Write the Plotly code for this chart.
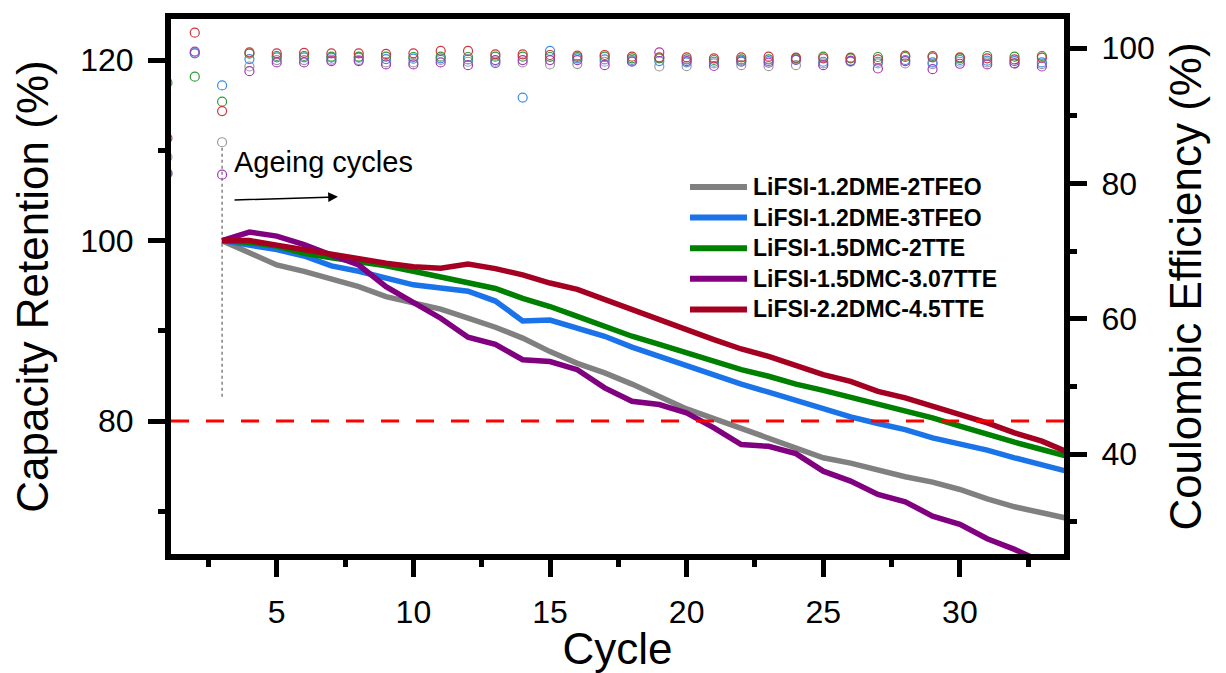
import plotly.graph_objects as go

# ---------------- data ----------------
cycles_ce = list(range(1, 35))
cycles_cap = list(range(3, 35))

series_names = [
    "LiFSI-1.2DME-2TFEO",
    "LiFSI-1.2DME-3TFEO",
    "LiFSI-1.5DMC-2TTE",
    "LiFSI-1.5DMC-3.07TTE",
    "LiFSI-2.2DMC-4.5TTE",
]

cap_gray = [100, 98.6, 97.3, 96.6, 95.7, 94.9, 93.8, 93.1, 92.4, 91.4, 90.4, 89.2, 87.7, 86.4,
            85.34, 84.1, 82.64, 81.35, 80.28, 79.17, 78.14, 77.03, 75.93, 75.34, 74.56, 73.83,
            73.23, 72.42, 71.39, 70.5, 69.84, 69.17]
cap_blue = [100, 99.55, 99.0, 98.3, 97.2, 96.6, 95.9, 95.1, 94.75, 94.4, 93.3, 91.1, 91.2, 90.3,
            89.4, 88.2, 87.2, 86.1, 85.04, 84.1, 83.2, 82.3, 81.35, 80.47, 79.73, 79.06, 78.14,
            77.5, 76.78, 75.93, 75.08, 74.38]
cap_green = [100, 99.8, 99.4, 98.6, 98.1, 97.7, 97.2, 96.6, 96.0, 95.3, 94.7, 93.6, 92.7, 91.6,
             90.5, 89.4, 88.5, 87.55, 86.55, 85.7, 84.97, 84.1, 83.4, 82.64, 81.9, 81.17, 80.35,
             79.43, 78.5, 77.66, 76.85, 76.04]
cap_purple = [100, 100.95, 100.5, 99.55, 98.4, 97.3, 94.9, 93.1, 91.4, 89.3, 88.5, 86.8, 86.6,
              85.7, 83.68, 82.2, 81.83, 80.9, 79.25, 77.4, 77.2, 76.4, 74.45, 73.35, 71.87, 71.06,
              69.47, 68.55, 66.96, 65.78, 64.49, 63.0]
cap_red = [100, 100.0, 99.5, 99.0, 98.4, 98.0, 97.5, 97.1, 96.95, 97.4, 96.9, 96.2, 95.3, 94.6,
           93.45, 92.35, 91.24, 90.13, 89.03, 87.99, 87.18, 86.15, 85.15, 84.4, 83.3, 82.57, 81.65,
           80.8, 79.8, 78.7, 77.77, 76.5]

ce_gray = [83.9, 99.3, 86.1, 97.3, 98.25, 98.25, 98.3, 98.26, 97.9, 97.9, 98.26, 98.0, 98.0, 97.9,
           97.6, 97.65, 98.0, 98.1, 97.3, 97.35, 97.75, 97.5, 97.35, 97.5, 97.75, 98.0, 97.75,
           97.75, 97.65, 98.0, 97.9, 97.75, 97.65, 97.75]
ce_blue = [81.5, 99.25, 94.5, 98.4, 98.65, 98.65, 98.6, 98.6, 98.4, 98.45, 98.5, 98.35, 97.8, 92.7,
           99.6, 98.5, 98.35, 98.26, 98.1, 97.9, 98.0, 98.16, 98.1, 98.26, 98.0, 98.16, 98.0, 98.26,
           97.9, 98.26, 98.16, 98.1, 97.9, 98.1]
ce_green = [94.9, 95.8, 92.1, 99.2, 98.85, 98.85, 98.75, 98.75, 98.75, 98.7, 98.75, 98.7, 98.75,
            98.75, 98.7, 98.7, 98.75, 98.5, 98.5, 98.35, 98.26, 98.35, 98.35, 98.5, 98.75, 98.5,
            98.7, 98.7, 98.85, 98.5, 98.85, 98.75, 98.85, 98.35]
ce_purple = [81.5, 99.5, 81.3, 96.6, 97.9, 97.9, 98.1, 98.1, 97.6, 97.6, 97.9, 97.5, 98.25, 98.25,
             98.25, 98.25, 97.5, 98.0, 99.4, 98.1, 97.37, 98.0, 97.85, 98.3, 97.5, 98.1, 97.0, 98.1,
             96.9, 97.7, 97.6, 97.75, 97.3, 97.0]
ce_red = [86.7, 102.3, 90.7, 99.4, 99.25, 99.3, 99.25, 99.25, 99.15, 99.25, 99.6, 99.6, 99.1, 99.1,
          99.0, 98.9, 99.0, 98.75, 98.65, 98.65, 98.5, 98.65, 98.75, 98.6, 98.5, 98.6, 98.35, 98.9,
          98.65, 98.65, 98.5, 98.35, 98.6, 98.3]

threshold = 80
ageing_start = 3
ageing_line_span = [82.7, 110.4]
ageing_label = "Ageing cycles"
arrow_from = [3.4, 104.5]
arrow_to = [7.24, 104.85]

x_ticks = [5, 10, 15, 20, 25, 30]
y_ticks = [80, 100, 120]
y2_ticks = [40, 60, 80, 100]

# ---------------- styles ----------------
line_colors = ["#808080", "#1a73e8", "#008000", "#800080", "#a50021"]
marker_colors = ["#9a9a9a", "#3b8de8", "#2f9a35", "#a53ab8", "#d0343e"]
caps = [cap_gray, cap_blue, cap_green, cap_purple, cap_red]
ces = [ce_gray, ce_blue, ce_green, ce_purple, ce_red]

FONT = "Liberation Sans, Arial, sans-serif"

# the page body adds an 8px offset; compensate so the figure fills the 1226x673 view
PAGE_OFFSET = 8

# legend geometry (paper fractions)
LEG_X0, LEG_X1, LEG_TX = 0.5812, 0.645, 0.6495
LEG_Y0, LEG_DY = 0.686, 0.0572

fig = go.Figure()

for name, ce, mc in zip(series_names, ces, marker_colors):
    fig.add_trace(go.Scatter(
        x=cycles_ce, y=ce, yaxis="y2", mode="markers", showlegend=False, name=name + " CE",
        marker=dict(symbol="circle-open", size=9, color=mc, line=dict(width=1.2, color=mc)),
    ))

for name, cap, lc in zip(series_names, caps, line_colors):
    fig.add_trace(go.Scatter(
        x=cycles_cap, y=cap, mode="lines", name=name, showlegend=False,
        line=dict(color=lc, width=5.5),
    ))

# legend drawn as shapes + text
for i, (name, lc) in enumerate(zip(series_names, line_colors)):
    yy = LEG_Y0 - i * LEG_DY
    fig.add_shape(type="line", xref="paper", yref="paper", x0=LEG_X0, x1=LEG_X1, y0=yy, y1=yy,
                  line=dict(color=lc, width=6))
    fig.add_annotation(x=LEG_TX, y=yy, xref="paper", yref="paper", text="<b>%s</b>" % name,
                       showarrow=False, xanchor="left", yanchor="middle",
                       font=dict(family=FONT, size=23, color="black"))

# 80 % threshold
fig.add_shape(type="line", xref="paper", x0=0, x1=1, yref="y", y0=threshold, y1=threshold,
              line=dict(color="#ff0000", width=3, dash="18px,17px"), layer="above")
# ageing start marker
fig.add_shape(type="line", xref="x", yref="y", x0=ageing_start, x1=ageing_start,
              y0=ageing_line_span[0], y1=ageing_line_span[1],
              line=dict(color="#808080", width=1.5, dash="dot"), layer="below")

fig.add_annotation(x=3.36, y=108.7, xref="x", yref="y", text=ageing_label, showarrow=False,
                   xanchor="left", yanchor="middle", font=dict(family=FONT, size=29, color="black"))
fig.add_annotation(x=arrow_to[0], y=arrow_to[1], ax=arrow_from[0], ay=arrow_from[1],
                   xref="x", yref="y", axref="x", ayref="y", text="", showarrow=True,
                   arrowhead=2, arrowsize=1.3, arrowwidth=1.5, arrowcolor="black")

axis_common = dict(
    showline=True, linewidth=6, linecolor="black", ticks="outside", ticklen=17, tickwidth=5,
    tickcolor="black", showgrid=False, zeroline=False, automargin=False,
    ticklabelstandoff=8,
    tickfont=dict(family=FONT, size=32, color="black"),
    title_font=dict(family=FONT, size=44, color="black"),
)
minor_common = dict(ticks="outside", ticklen=7, tickwidth=5, tickcolor="black")

fig.update_layout(
    width=1226 - PAGE_OFFSET, height=673 - PAGE_OFFSET,
    margin=dict(l=171 - PAGE_OFFSET, r=162, t=19 - PAGE_OFFSET, b=119),
    paper_bgcolor="white", plot_bgcolor="white",
    xaxis=dict(
        range=[1.13, 33.81], tickvals=x_ticks, mirror=True,
        minor=dict(dtick=2.5, tick0=0, **minor_common),
        title=dict(text="Cycle", standoff=12),
        **axis_common,
    ),
    yaxis=dict(
        range=[65.27, 124.56], tickvals=y_ticks,
        minor=dict(dtick=10, tick0=0, **minor_common),
        title=dict(text="Capacity Retention (%)", standoff=28),
        **axis_common,
    ),
    yaxis2=dict(
        range=[25.22, 104.32], tickvals=y2_ticks, overlaying="y", side="right",
        minor=dict(dtick=10, tick0=0, **minor_common),
        title=dict(text="Coulombic Efficiency (%)", standoff=18),
        **axis_common,
    ),
    showlegend=False,
)

fig.write_html("out.html")
